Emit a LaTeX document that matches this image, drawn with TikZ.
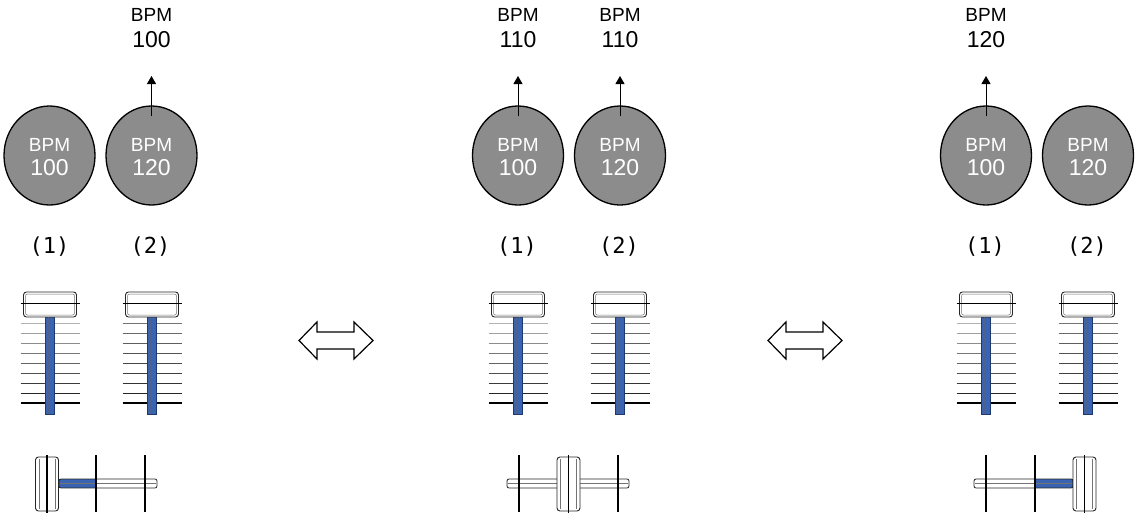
\documentclass[tikz,border=0pt]{standalone}
\usepackage{fontspec}
\setmainfont{Liberation Sans}
\newfontfamily\chmono{DejaVu Sans Mono}
\usetikzlibrary{arrows.meta,shapes.geometric}
\definecolor{knob}{HTML}{8C8C8C}
\definecolor{shaftblue}{HTML}{3A63B2}
\definecolor{shaftdark}{HTML}{1F3A70}
\tikzset{
  deck/.style={ellipse, draw=black, line width=1.3pt, fill=knob, minimum width=91pt, minimum height=99pt, inner sep=0pt},
  bpmword/.style={font=\fontsize{19}{19}\selectfont, inner sep=0pt, anchor=base},
  bpmnum/.style={font=\fontsize{23}{23}\selectfont, inner sep=0pt, anchor=base},
  chlabel/.style={font=\chmono\fontsize{22}{22}\selectfont, inner sep=0pt, anchor=base},
  tempoarrow/.style={-{Triangle[length=8pt,width=9pt]}, line width=1pt},
  swaparrow/.style={draw=black, line width=1.2pt, fill=white, line join=miter},
}
% channel fader: #1 centre x, #2 lightness of top tick (percent black)
\newcommand\chfader[2]{%
  \foreach \i in {0,...,7}{%
    \pgfmathtruncatemacro\cc{#2+(85-#2)*\i/7}
    \draw[black!\cc, line width=1pt] (#1-29.5,323+10*\i) -- (#1+29.5,323+10*\i);
  }
  \draw[line width=2pt] (#1-29.5,403) -- (#1+29.5,403);
  \filldraw[fill=shaftblue, draw=shaftdark, line width=0.7pt] (#1-4.5,317) rectangle (#1+4.5,414);
  \draw[shaftdark!80, line width=0.4pt] (#1-1.5,317) -- (#1-1.5,414);
  \draw[shaftdark!80, line width=0.4pt] (#1+1.5,317) -- (#1+1.5,414);
  \filldraw[fill=white, draw=black!85, line width=0.9pt, rounded corners=3pt] (#1-26.5,292) rectangle (#1+26.5,317);
  \draw[black!55, line width=0.5pt, rounded corners=2pt] (#1-24.5,294) rectangle (#1+24.5,315);
  \draw[line width=1.6pt] (#1-29.5,303.5) -- (#1+29.5,303.5);
}
% crossfader: #1 cap x, #2-#3 shaft, #4-#5 blue part, #6 #7 guide lines
\newcommand\xfader[7]{%
  \fill[white] (#2,479) rectangle (#3,488);
  \fill[shaftblue] (#4,479.3) rectangle (#5,487.7);
  \draw[black!85, line width=0.8pt, rounded corners=2pt] (#2,479) rectangle (#3,488);
  \draw[black!55, line width=0.4pt] (#2+1,483.5) -- (#3-1,483.5);
  \draw[line width=1.5pt] (#6,455) -- (#6,512);
  \draw[line width=1.5pt] (#7,455) -- (#7,512);
  \filldraw[fill=white, draw=black!85, line width=0.9pt, rounded corners=3pt] (#1-11.5,457) rectangle (#1+11.5,511);
  \draw[black!55, line width=0.5pt] (#1-8,459) -- (#1-8,509);
  \draw[black!55, line width=0.5pt] (#1+8,459) -- (#1+8,509);
  \draw[line width=1.5pt] (#1,455) -- (#1,513);
}
\begin{document}
\begin{tikzpicture}[x=1pt,y=-1pt]
\useasboundingbox (0,0) rectangle (1136,514);

% ---------- group 1 ----------
\node[deck] (g1a) at (49.5,155.5) {};
\node[deck] (g1b) at (151.5,155.5) {};
\node[bpmword, white] (g1aw) at (49.5,151) {BPM};
\node[bpmnum, white] (g1an) at (49.5,175.5) {100};
\node[bpmword, white] (g1bw) at (151.5,151) {BPM};
\node[bpmnum, white] (g1bn) at (151.5,175.5) {120};
\node[bpmword] (t1w) at (151.5,21.7) {BPM};
\node[bpmnum] (t1n) at (151.5,47.3) {100};
\coordinate (a1) at (151.5,76);
\draw[tempoarrow] ([yshift=-11pt]g1b.north) -- (a1);
\node[chlabel] (l1a) at (49.5,253) {(1)};
\node[chlabel] (l1b) at (150.5,253) {(2)};
\chfader{50}{30}
\chfader{152}{55}
\xfader{47}{59}{157}{59}{96}{96}{145}

% ---------- swap arrow 1 ----------
\draw[swaparrow] (299,340.5) -- (317,322) -- (317,332) -- (354,332) -- (354,322) -- (373,340.5)
  -- (354,359) -- (354,349) -- (317,349) -- (317,359) -- cycle;

% ---------- group 2 ----------
\node[deck] (g2a) at (518,155.5) {};
\node[deck] (g2b) at (620,155.5) {};
\node[bpmword, white] (g2aw) at (518,151) {BPM};
\node[bpmnum, white] (g2an) at (518,175.5) {100};
\node[bpmword, white] (g2bw) at (620,151) {BPM};
\node[bpmnum, white] (g2bn) at (620,175.5) {120};
\node[bpmword] (t2aw) at (518,21.7) {BPM};
\node[bpmnum] (t2an) at (518,47.3) {110};
\node[bpmword] (t2bw) at (620,21.7) {BPM};
\node[bpmnum] (t2bn) at (620,47.3) {110};
\coordinate (a2a) at (518,76);
\coordinate (a2b) at (620,76);
\draw[tempoarrow] ([yshift=-11pt]g2a.north) -- (a2a);
\draw[tempoarrow] ([yshift=-11pt]g2b.north) -- (a2b);
\node[chlabel] (l2a) at (517,253) {(1)};
\node[chlabel] (l2b) at (619,253) {(2)};
\chfader{518}{30}
\chfader{620}{55}
\xfader{568.5}{507}{629}{507}{507}{519}{618}

% ---------- swap arrow 2 ----------
\draw[swaparrow] (768,340.5) -- (786,322) -- (786,332) -- (823,332) -- (823,322) -- (842,340.5)
  -- (823,359) -- (823,349) -- (786,349) -- (786,359) -- cycle;

% ---------- group 3 ----------
\node[deck] (g3a) at (986,155.5) {};
\node[deck] (g3b) at (1088,155.5) {};
\node[bpmword, white] (g3aw) at (986,151) {BPM};
\node[bpmnum, white] (g3an) at (986,175.5) {100};
\node[bpmword, white] (g3bw) at (1088,151) {BPM};
\node[bpmnum, white] (g3bn) at (1088,175.5) {120};
\node[bpmword] (t3w) at (986,21.7) {BPM};
\node[bpmnum] (t3n) at (986,47.3) {120};
\coordinate (a3) at (986,76);
\draw[tempoarrow] ([yshift=-11pt]g3a.north) -- (a3);
\node[chlabel] (l3a) at (985,253) {(1)};
\node[chlabel] (l3b) at (1087,253) {(2)};
\chfader{986}{30}
\chfader{1088}{55}
\xfader{1084.5}{974}{1073}{1035}{1073}{986}{1035}
\end{tikzpicture}
\end{document}
